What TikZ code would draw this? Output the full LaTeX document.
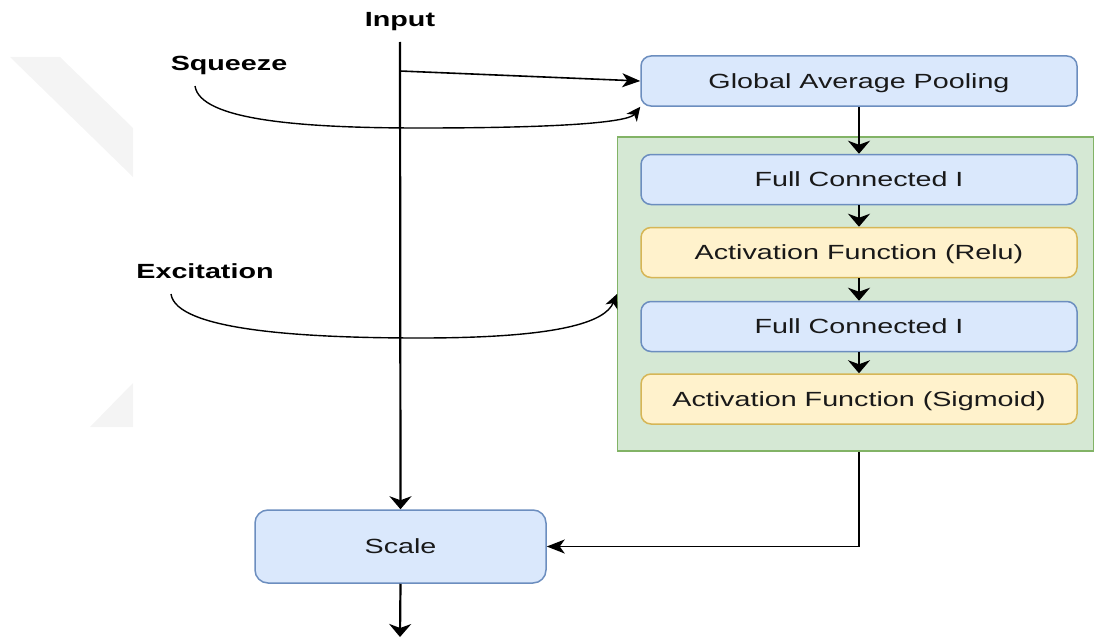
\documentclass[tikz,border=0pt]{standalone}
\usepackage{fontspec}
\setmainfont{Liberation Sans}
\usetikzlibrary{arrows.meta}
\definecolor{bluefill}{HTML}{DAE8FC}
\definecolor{bluedraw}{HTML}{6C8EBF}
\definecolor{yellowfill}{HTML}{FFF2CC}
\definecolor{yellowdraw}{HTML}{D6B656}
\definecolor{greenfill}{HTML}{D5E8D4}
\definecolor{greendraw}{HTML}{82B366}
\definecolor{wmark}{HTML}{F4F4F4}
\newcommand{\wide}[1]{\scalebox{1.4}[1]{#1}}
\tikzset{
  boxtext/.style={font=\fontsize{20.5}{24}\selectfont, text=black!90, text depth=0pt},
  bluebox/.style={boxtext, draw=bluedraw, fill=bluefill, line width=1.5pt, rounded corners=10pt, minimum width=436pt, minimum height=50pt, inner sep=0pt},
  yellowbox/.style={boxtext, draw=yellowdraw, fill=yellowfill, line width=1.5pt, rounded corners=10pt, minimum width=436pt, minimum height=50pt, inner sep=0pt},
  container/.style={draw=greendraw, fill=greenfill, line width=1.3pt, minimum width=476pt, minimum height=314pt, inner sep=0pt},
  lbl/.style={font=\fontsize{20.5}{24}\selectfont\bfseries, inner sep=0pt, text depth=0pt},
  varrow/.style={line width=2.2pt, -{Stealth[length=13pt,width=22pt,inset=4pt]}},
  harrow/.style={line width=1.6pt, -{Stealth[length=18pt,width=14pt,inset=5pt]}},
  carrow/.style={line width=1.4pt, -{Stealth[length=14pt,width=13pt,inset=4pt]}},
}
\begin{document}
\begin{tikzpicture}[x=1pt,y=-1pt]
\useasboundingbox (0,0) rectangle (1094,642);
% faint watermark
\fill[wmark] (10,57) -- (60,57) -- (133,128) -- (133,177) -- cycle;
\fill[wmark] (90,427) -- (133,383) -- (133,427) -- cycle;

% container
\node[container] (grp) at (855.5,294) {};
% boxes
\node[bluebox] (gap) at (859,81) {\wide{Global Average Pooling}};
\node[bluebox] (fc1) at (859,179.5) {\wide{Full Connected I}};
\node[yellowbox] (af1) at (859,252.5) {\wide{Activation Function (Relu)}};
\node[bluebox] (fc2) at (859,326.5) {\wide{Full Connected I}};
\node[yellowbox] (af2) at (859,399) {\wide{Activation Function (Sigmoid)}};
\node[bluebox, minimum width=291pt, minimum height=73pt, rounded corners=13pt] (scale) at (400.5,546.5) {\wide{Scale}};

% labels
\node[lbl] (input) at (400,19) {\wide{Input}};
\node[lbl] (squeeze) at (229,63) {\wide{Squeeze}};
\node[lbl] (excite) at (205,271.5) {\wide{Excitation}};

% coordinates
\coordinate (top) at (400,42);
\coordinate (branch) at (400,71);
\coordinate (out) at (400,637);
\coordinate (sqs) at (195,86);
\coordinate (exs) at (171,294);
\coordinate (grpw) at (617,294);
\coordinate (corner) at (859,546.5);

% main flow
\draw[varrow] (top) -- (scale.north);
\draw[varrow] (scale.south) -- (out);
\draw[harrow] (branch) -- (gap.west);
\draw[varrow] (gap.south) -- (fc1.north);
\draw[varrow] (fc1.south) -- (af1.north);
\draw[varrow] (af1.south) -- (fc2.north);
\draw[varrow] (fc2.south) -- (af2.north);
\draw[harrow] (grp.south -| gap.south) -- (corner) -- (scale.east);

% curved annotations
\draw[carrow] (sqs) .. controls (200,120) and (300,128) .. (420,128)
  .. controls (590,128) and (630,120) .. (gap.south west);
\draw[carrow] (exs) .. controls (176,330) and (300,338) .. (420,338)
  .. controls (560,338) and (605,322) .. (grpw);
\end{tikzpicture}
\end{document}
